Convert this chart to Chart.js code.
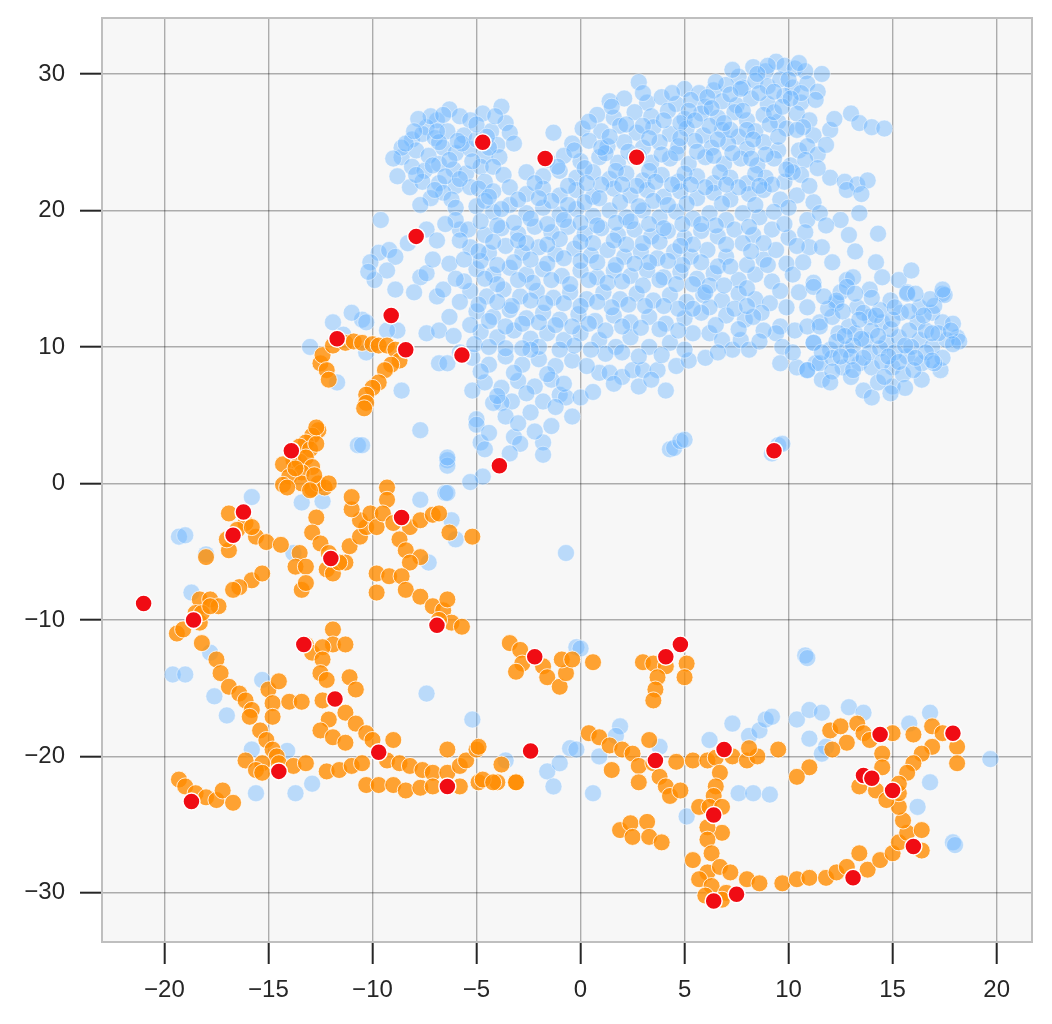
<!DOCTYPE html>
<html lang="en">
<head>
    <meta charset="UTF-8">
    <title>Embedding scatter</title>
    <script src="https://cdn.jsdelivr.net/npm/chart.js@4.4.1/dist/chart.umd.min.js"></script>
    <style>
        body { margin: 0; background: #ffffff; }
        canvas { display: block; }
    </style>
</head>
<body>
<canvas id="myChart" width="1052" height="1024"></canvas>
<script>
    // tick positions
    var xTicks = [-20, -15, -10, -5, 0, 5, 10, 15, 20];
    var yTicks = [-30, -20, -10, 0, 10, 20, 30];

    // blue points: upper left clump
    var blueUpperLeft = [
        [-6.3,27.4],[-5.8,26.9],[-4.7,27.1],[-3.8,27.6],[-3.6,26.4],[-3.4,25.7],[-5.3,26.6],[-6.9,26.6],
        [-7.4,26.1],[-8.1,25.2],[-7.6,25.6],[-7.0,25.3],[-6.4,25.8],[-5.6,25.5],[-4.3,25.8],[-4.0,24.8],
        [-8.6,23.9],[-7.9,24.4],[-7.3,24.0],[-6.6,24.6],[-6.0,24.2],[-5.3,24.5],[-4.6,24.0],[-3.9,23.9],
        [-8.8,22.5],[-8.1,23.2],[-7.5,22.9],[-6.8,23.4],[-6.1,23.0],[-5.5,22.7],[-4.8,23.2],[-4.2,23.2],
        [-8.2,21.7],[-7.6,22.1],[-6.8,22.0],[-6.0,21.8],[-5.3,21.7],[-4.6,22.1],[-6.6,21.3],[-6.2,20.8],
        [-7.2,20.9],[-5.7,24.9],[-7.2,26.9],[-8.6,24.6],[-9.0,23.8],[-5.0,25.2],[-6.8,25.0],
        [-7.8,26.7],[-6.6,27.0],[-5.0,26.3],[-4.1,26.9],[-3.2,24.9],[-4.4,24.6],[-5.2,23.6],[-6.3,23.7],
        [-7.1,23.3],[-7.9,22.6],[-8.4,24.9],[-6.9,25.8],[-5.9,25.1],[-6.5,22.5],[-5.8,22.3],[-4.9,21.6],
        [-7.0,21.5],[-8.0,25.8],[-4.5,25.4],[-3.7,22.6],[-6.0,20.2],[-7.7,20.4]
    ];

    // blue points: left arm going down toward the orange arc
    var blueLeftArm = [
        [-9.7,16.9],[-9.2,17.1],[-8.9,16.6],[-9.3,15.6],[-9.9,14.9],[-8.9,14.2],[-7.7,15.1],[-7.4,15.4],
        [-7.1,16.4],[-7.4,18.6],[-6.9,17.8],[-6.3,16.1],[-5.8,18.6],[-6.9,13.7],[-6.6,14.2],[-7.4,11.0],
        [-6.3,12.2],[-6.8,8.8],[-7.7,3.9],[-10.5,12.0],[-8.8,11.2],[-8.6,6.8],[-10.1,16.2],[-9.6,19.3],
        [-10.2,15.5],[-8.3,17.6],[-8.0,14.0],[-13.0,10.0],[-11.9,11.8],[-11.0,12.5],[-10.3,11.8],[-9.3,11.2],
        [-11.7,7.4],[-10.3,9.6],[-10.7,2.8],[-10.5,2.8],[-6.4,1.7],[-6.4,1.3],[-6.8,11.2],[-6.4,8.8],
        [-5.2,6.8],[-6.0,19.3],[-6.5,19.0],[-11.4,10.9]
    ];

    // blue points: main body
    var blueMain = [
        [8.3,30.5],[8.9,30.2],[9.4,30.9],[9.8,30.6],[10.3,30.4],[10.8,30.2],[11.6,30.0],[7.6,29.8],
        [2.8,29.4],[5.0,28.9],[5.7,28.6],[6.4,28.8],[7.0,29.2],[7.8,29.0],[8.4,29.5],[9.0,29.1],[9.6,29.6],[10.2,29.0],[10.9,29.3],[11.4,28.7],
        [1.4,28.0],[2.1,28.2],[3.2,27.9],[3.9,28.3],[4.6,27.8],[5.3,28.1],[6.0,27.6],[6.8,28.0],[7.5,27.7],[8.2,28.2],[9.0,27.8],[9.8,28.4],[10.6,27.9],[11.3,28.1],[8.6,28.6],
        [0.8,27.0],[1.6,26.8],[2.6,27.2],[3.4,26.9],[4.2,27.3],[5.0,26.7],[5.8,27.1],[6.6,26.8],[7.4,27.2],[8.0,26.6],[8.8,27.0],[9.5,26.5],[10.4,27.1],[11.0,26.6],[13.0,27.1],[13.4,26.4],[14.0,26.1],
        [0.1,26.0],[1.0,25.8],[1.9,26.2],[2.7,25.7],[3.5,26.1],[4.3,25.6],[5.1,26.0],[5.9,25.5],[6.8,25.9],[7.6,25.4],[8.4,25.8],[9.1,26.3],[9.9,26.0],[11.2,25.5],[12.0,25.9],[14.6,26.0],[-1.3,25.7],
        [-0.4,24.9],[0.4,25.1],[1.3,24.7],[2.1,25.0],[3.0,24.6],[3.8,25.0],[4.7,24.7],[5.5,25.1],[6.3,24.6],[7.1,24.9],[8.0,24.5],[8.8,25.0],[9.5,24.4],[10.5,24.4],[10.9,24.7],[11.4,24.1],
        [-1.6,23.7],[-0.8,24.0],[0.0,23.6],[0.9,23.9],[1.8,23.5],[2.6,23.9],[3.4,23.5],[4.3,23.8],[5.2,23.4],[6.0,23.9],[6.9,23.4],[7.7,23.8],[8.5,23.3],[9.3,23.8],[10.1,23.3],[10.8,23.7],
        [-2.6,22.8],[-1.8,22.5],[-1.0,22.9],[-0.2,22.4],[0.6,22.8],[1.4,22.3],[2.2,22.7],[3.0,22.2],[3.9,22.6],[4.7,22.1],[5.6,22.5],[6.4,22.0],[7.2,22.4],[8.0,22.0],[8.9,22.4],[9.8,22.1],[10.6,22.6],[12.0,22.4],[12.7,22.1],[13.3,21.9],[13.8,22.2],
        [-4.2,21.4],[-3.4,21.7],[-2.6,21.2],[-1.8,21.6],[-1.0,21.1],[-0.2,21.5],[0.6,21.0],[1.6,21.6],[2.4,21.1],[3.2,21.5],[4.0,21.0],[4.8,21.4],[5.6,20.9],[6.4,21.3],[7.2,20.8],[8.1,21.2],[8.8,21.5],[9.6,20.8],[10.4,21.1],[11.2,20.6],[12.8,21.5],[13.5,21.2],
        [-5.0,20.3],[-4.2,19.9],[-3.4,20.4],[-2.6,19.8],[-1.8,20.2],[-1.0,19.7],[-0.2,20.1],[0.6,19.6],[1.4,20.0],[2.2,19.5],[3.0,20.0],[3.8,19.5],[4.6,19.9],[5.4,19.4],[6.2,19.8],[7.0,19.3],[7.8,19.8],[8.6,19.5],[9.3,19.9],[10.9,19.3],[11.5,19.8],[12.5,19.3],[13.4,19.8],
        [-5.4,18.6],[-4.6,18.2],[-3.8,18.7],[-3.0,18.3],[-2.2,18.8],[-1.4,18.4],[-0.6,18.8],[0.2,18.3],[1.0,18.7],[1.8,18.2],[2.6,18.6],[3.4,18.1],[4.2,18.5],[5.0,18.0],[5.8,18.5],[6.6,18.1],[7.4,18.6],[8.3,18.2],[9.2,18.6],[10.0,18.0],[10.8,18.4],[12.9,18.2],[14.3,18.3],
        [-5.3,17.3],[-4.4,16.9],[-3.6,17.4],[-2.8,16.9],[-2.0,17.3],[-1.2,16.8],[-0.3,17.2],[0.5,16.7],[1.3,17.1],[2.1,16.6],[2.9,17.0],[3.7,16.5],[4.5,17.0],[5.3,16.6],[6.1,17.1],[7.0,16.6],[7.8,17.6],[8.8,16.4],[9.4,17.1],[9.9,16.1],[11.0,17.3],[11.6,17.3],[13.2,17.0],[12.1,16.2],[14.2,16.2],
        [-5.0,15.7],[-4.2,15.3],[-3.4,15.8],[-2.6,15.3],[-1.8,15.7],[-0.9,15.2],[0.0,15.6],[0.8,15.1],[1.6,15.6],[2.4,15.2],[3.2,15.6],[4.0,15.1],[4.8,15.5],[5.6,15.0],[6.4,15.4],[7.6,14.9],[8.4,15.3],[9.2,14.8],[10.2,15.3],[11.2,14.7],[12.8,14.9],[13.1,15.1],[14.5,15.1],[15.3,14.9],[15.9,15.6],
        [-5.3,14.1],[-4.5,13.7],[-3.7,14.2],[-2.9,13.7],[-2.1,14.1],[-1.3,13.6],[-0.5,14.0],[0.3,13.5],[1.1,14.0],[1.9,13.5],[2.7,13.9],[3.5,13.4],[4.3,13.8],[5.1,13.3],[5.9,13.8],[6.8,13.4],[7.6,13.9],[8.4,13.5],[9.1,13.2],[9.9,12.9],[10.9,12.9],[12.3,13.2],[12.5,14.0],[13.9,14.2],[14.9,13.4],[15.7,14.0],[17.4,13.9],
        [-5.0,12.6],[-4.2,12.2],[-3.4,12.7],[-2.6,12.1],[-1.8,12.5],[-1.0,12.0],[-0.1,12.4],[0.7,11.9],[1.6,12.3],[2.4,11.8],[3.3,12.2],[4.1,11.7],[5.0,12.1],[6.2,12.9],[7.0,12.3],[7.9,12.0],[8.7,12.5],[9.6,11.5],
        [-4.8,11.1],[-4.0,10.7],[-3.2,11.2],[-2.4,10.6],[-1.6,11.0],[-0.8,10.5],[0.0,11.0],[0.9,10.5],[1.7,10.0],[2.4,10.7],[3.3,10.0],[4.3,10.3],[5.4,11.0],[6.2,11.0],[6.8,10.5],[7.3,9.8],[7.7,10.5],[8.1,9.8],[9.4,11.0],[9.7,10.0],[11.2,10.3],[11.5,11.8],[11.3,8.8],
        [-5.2,9.2],[-4.4,8.7],[-3.6,9.3],[-2.8,8.7],[-2.0,9.1],[-1.2,8.6],[-0.4,9.0],[0.9,8.1],[1.4,8.1],[2.0,7.8],[2.5,8.3],[3.0,8.3],[3.7,8.3],[4.6,8.6],[5.2,9.0],[6.0,9.2],[9.6,8.8],[10.4,8.5],[10.9,8.3],[11.6,7.6],
        [-4.6,7.4],[-3.8,7.0],[-3.0,7.5],[-2.2,7.1],[-1.4,7.6],[-1.0,6.5],[-0.7,6.3],[0.0,6.3],[0.6,6.7],[2.8,7.1],[4.1,6.8],[-1.8,6.0],[-3.3,6.0],[-3.8,5.9],[-4.2,5.9],
        [-3.6,4.9],[-5.0,4.7],[-5.0,4.3],[-0.4,4.9],[-2.4,5.2],[-1.4,4.2],
        [-4.8,3.0],[-4.6,2.5],[-3.2,3.4],[-2.9,2.9],[-3.4,2.2],[-1.8,3.0],[-1.8,2.1],[-6.4,1.9],[-4.7,0.5],[-5.3,0.1],[-6.5,-0.7],
        [4.3,2.5],[4.5,2.6],[4.8,3.1],[5.0,3.2],[9.5,2.8],[9.7,2.9],[9.2,2.2]
    ];

    // blue points: extra points in the densest part of the body
    var blueDense = [
        [-0.3,24.4],[1.2,24.2],[2.3,24.3],[3.9,24.1],[5.6,24.3],[7.3,24.2],[8.9,24.1],[-1.1,23.2],
        [0.2,23.1],[1.7,22.9],[3.3,22.9],[5.0,22.7],[6.7,22.8],[8.4,22.7],[10.2,22.8],
        [-2.2,22.0],[-0.6,21.8],[1.0,21.9],[2.7,21.8],[4.4,21.9],[6.0,21.7],[7.6,21.7],[9.2,21.9],[11.0,21.8],
        [-4.6,20.7],[-3.0,20.8],[-1.4,20.7],[0.2,20.6],[1.9,20.6],[3.5,20.7],[5.1,20.5],[6.8,20.5],[8.4,20.4],[10.0,20.2],
        [-4.8,19.2],[-3.2,19.1],[-1.6,19.0],[0.0,19.1],[1.7,19.1],[3.3,19.0],[4.9,19.0],[6.5,18.9],[8.1,18.8],[9.8,19.0],[11.8,18.9],
        [-5.8,17.8],[-4.2,17.7],[-2.6,17.6],[-1.0,17.9],[0.6,17.6],[2.2,17.5],[3.8,17.7],[5.4,17.5],[7.0,17.5],[8.8,17.6],[10.4,17.4],
        [-4.8,16.3],[-3.2,16.2],[-1.6,16.1],[0.0,16.3],[1.7,16.0],[3.3,16.2],[4.9,16.0],[6.6,15.9],[8.0,16.0],[10.7,16.2],
        [-5.6,14.8],[-4.0,14.6],[-2.3,14.7],[-0.5,14.6],[1.3,14.7],[3.0,14.5],[4.6,14.6],[6.2,14.5],[8.0,14.3],[9.6,14.1],[10.5,14.0],
        [-4.9,13.1],[-3.3,13.0],[-1.7,13.2],[0.0,13.0],[1.5,12.9],[3.1,13.0],[4.7,12.8],[5.8,12.5],[7.4,12.8],[8.3,12.2],
        [-5.3,11.6],[-3.6,11.5],[-2.0,11.8],[-0.4,11.5],[1.2,11.2],[2.9,11.4],[4.7,11.2],[6.5,11.6],[8.8,11.2],[10.3,11.2],
        [-5.1,10.2],[-3.6,9.9],[-2.0,10.0],[-0.3,10.1],[1.2,9.5],[2.8,9.3],[3.9,9.4],[5.0,9.8],[8.6,10.4],[10.2,9.6],
        [-4.8,8.2],[-3.2,8.1],[-1.6,8.0],[0.3,8.6],[-2.4,9.8],[6.6,9.6],
        [-4.0,6.4],[-2.6,6.6],[-1.2,5.6],[-3.0,4.4],[-4.4,3.7],[-2.2,3.8],[-0.8,7.3],[1.6,7.3],[3.4,7.6],
        [4.4,28.6],[6.1,28.3],[7.2,28.5],[9.3,28.7],[10.0,29.6],[10.6,28.6],[5.2,27.3],[6.3,27.5],[7.8,27.3],
        [9.3,27.2],[10.7,26.1],[4.8,26.4],[6.2,26.2],[7.2,25.9],[8.0,25.9],[9.5,25.4],[10.4,25.9],[12.2,26.7],
        [11.8,24.8],[9.9,23.0],[11.4,23.1],[4.0,26.6],[2.2,26.3],[3.0,28.6],[0.4,26.5],[1.5,27.6],[9.0,30.6],
        [10.5,30.8],[7.3,30.3]
    ];

    // blue points: more filling of the central ridge
    var blueRidge = [
        [-4.4,21.0],[-3.8,20.1],[-2.0,20.9],[-0.6,20.4],[0.9,20.9],[2.8,20.3],[4.2,20.4],[-4.0,18.9],
        [-2.4,19.4],[-0.8,19.3],[0.8,18.9],[2.4,19.2],[4.0,18.7],[5.8,19.0],[-4.9,17.0],[-3.0,17.8],
        [-1.6,17.5],[0.0,17.7],[1.6,17.8],[3.0,17.6],[4.8,17.4],[-5.6,16.4],[-4.0,16.0],[-2.4,16.4],
        [-0.8,16.5],[0.8,16.2],[2.6,16.1],[4.2,16.3],[5.8,16.2],[-4.6,15.0],[-3.0,14.9],[-1.4,14.9],
        [0.4,14.9],[2.0,14.8],[3.8,14.9],[5.4,14.6],[-4.0,13.3],[-2.4,13.4],[-0.8,13.2],[0.8,13.3],
        [2.3,13.1],[4.0,13.0],[-4.4,11.9],[-2.8,11.7],[-1.2,11.6],[0.4,11.7],[2.0,11.5],[3.8,11.3],
        [-4.4,10.0],[-2.8,9.9],[-1.0,9.8],[0.5,9.8],[2.0,9.6],[6.9,14.5],[7.2,15.9],[8.2,17.0],
        [9.0,16.0],[6.0,14.0],[5.4,12.8],[7.6,11.3],[8.0,13.0],[-6.0,15.0],[-5.8,13.3],[-6.1,10.8],
        [-5.8,9.6],[1.0,24.6],[2.8,24.0],[4.6,24.2],[6.4,24.0],[8.2,23.8],[0.3,22.0],[2.0,21.9],
        [3.6,22.1],[5.3,21.9],[7.0,21.9],[8.6,21.8],[6.9,26.4],[5.5,26.6],[3.0,26.2],[1.4,25.4],
        [3.3,25.3],[4.8,25.3],[6.6,25.2],[8.3,25.2],[7.7,28.9],[6.5,29.4],[8.5,30.0],[9.7,27.6],
        [10.1,28.2]
    ];

    // blue points: right lobe
    var blueRightLobe = [
        [11.2,14.4],[12.3,13.4],[12.8,14.4],[15.7,13.9],[17.5,13.8],[10.9,11.5],[11.5,11.5],[12.1,12.2],
        [12.9,11.5],[13.9,12.2],[14.5,11.8],[15.4,12.5],[16.2,11.8],[16.9,12.5],[17.4,11.8],[18.1,10.7],
        [11.2,10.3],[12.0,9.8],[12.8,9.8],[13.7,10.5],[14.7,10.3],[15.3,10.7],[16.3,10.5],[16.9,10.0],
        [17.6,10.5],[10.9,8.3],[11.5,8.8],[12.6,8.5],[13.4,8.8],[14.0,8.5],[15.0,8.5],[15.7,9.3],
        [16.4,8.8],[17.3,8.3],[13.6,6.8],[14.0,6.3],[15.0,7.1],[16.4,7.6],[14.4,12.7],[12.4,11.0],
        [13.2,11.0],[14.0,11.2],[14.9,11.3],[15.8,11.2],[16.6,11.2],[17.2,11.0],[18.2,10.4],[12.3,10.4],
        [13.1,10.1],[13.9,9.6],[14.4,9.9],[15.1,9.6],[15.9,10.0],[16.6,9.6],[17.4,9.2],[12.1,9.2],
        [13.0,9.3],[14.5,8.9],[15.5,8.0],[16.0,8.3],[13.0,7.8],[14.3,7.4],[15.6,7.0],[11.9,12.8],
        [13.3,12.9],[15.0,12.0],[16.3,12.9],[17.0,13.0],[14.0,13.6],[16.8,13.5],[17.4,14.2],[13.6,12.5],
        [12.6,12.6],[13.4,12.0],[14.2,12.3],[15.1,12.9],[15.8,12.6],[16.5,12.3],[17.9,11.7],[12.7,10.8],
        [13.5,10.6],[14.3,10.8],[15.6,10.1],[16.9,11.0],[17.8,11.2],[11.6,9.6],[12.5,9.3],[13.6,9.2],
        [14.8,9.3],[16.1,9.2],[17.0,8.8],[12.1,8.2],[13.1,8.3],[14.6,7.8],[15.3,8.9],[16.9,9.0],
        [14.9,6.6],[17.9,10.2],[11.7,13.7],[13.2,13.9],[16.1,13.9],[12.0,7.4]
    ];

    // blue points: scattered among the orange strands
    var blueScatter = [
        [-15.8,-1.0],[-13.4,-1.4],[-12.4,-1.3],[-19.3,-3.9],[-19.0,-3.8],[-18.7,-8.0],[-7.7,-1.2],[-6.4,-0.7],
        [-6.2,-2.7],[-6.0,-4.1],[-7.3,-5.8],[-13.8,-5.1],[-0.7,-5.1],[-18.0,-5.2],[-19.6,-14.0],[-19.0,-14.0],
        [-17.8,-12.4],[-17.6,-15.6],[-17.0,-17.0],[-15.3,-14.4],[-15.8,-19.5],[-14.1,-19.6],[-15.6,-22.7],[-13.7,-22.7],
        [-12.9,-22.0],[-7.4,-15.4],[-5.2,-17.3],[-3.6,-20.3],[-1.6,-21.1],[-1.0,-20.5],[-1.3,-22.2],[-0.5,-19.4],
        [-0.2,-19.5],[-0.2,-12.0],[0.0,-12.1],[1.9,-17.8],[1.7,-18.5],[0.9,-20.0],[0.6,-22.7],[3.8,-19.3],
        [6.2,-18.8],[7.3,-17.6],[8.1,-18.5],[8.6,-18.1],[8.9,-17.3],[9.2,-17.1],[10.4,-17.3],[11.0,-16.6],
        [11.6,-16.8],[12.9,-16.4],[13.6,-16.8],[11.0,-18.7],[11.8,-19.3],[15.8,-17.6],[16.8,-16.8],[16.8,-21.9],
        [16.2,-23.7],[17.9,-26.3],[18.0,-26.5],[7.6,-22.7],[8.3,-22.7],[9.1,-22.8],[10.8,-12.6],[10.9,-12.8],
        [5.1,-24.4],[11.6,-19.8],[19.7,-20.2]
    ];

    // orange strands
    var orangeUpperArc = [
        [-12.5,8.8],[-12.4,9.4],[-12.2,8.3],[-12.1,7.6],[-11.9,10.1],[-11.3,10.3],[-10.9,10.4],[-10.5,10.3],
        [-10.0,10.2],[-9.7,10.1],[-9.3,10.1],[-8.9,9.8],[-8.7,9.0],[-9.1,8.7],[-9.4,8.3],[-9.7,7.4],
        [-10.0,7.0],[-10.3,6.5],[-10.3,5.9],[-10.4,5.5]
    ];
    var orangeLeftClusters = [
        [-12.6,3.9],[-12.9,3.5],[-13.2,3.0],[-13.5,2.7],[-13.0,2.5],[-12.7,2.9],[-13.8,1.7],[-14.3,1.4],
        [-13.5,1.6],[-13.2,1.9],[-12.9,1.2],[-13.4,0.8],[-14.0,0.5],[-14.3,-0.1],[-13.4,0.0],[-12.9,-0.4],
        [-12.6,0.0],[-12.3,-0.3],[-14.1,-0.3],[-13.7,1.1],[-12.8,0.6],[-12.1,0.0],[-13.0,-0.5],[-12.7,4.1],
        [-16.9,-2.2],[-16.1,-2.9],[-15.6,-3.9],[-15.1,-4.3],[-16.9,-4.9],[-17.0,-4.1],[-16.5,-3.4],[-15.8,-3.2],
        [-14.4,-4.5],[-18.0,-5.4]
    ];
    var orangeMiddle = [
        [-12.7,-2.5],[-12.9,-3.6],[-12.5,-4.4],[-13.5,-5.1],[-13.7,-6.1],[-13.2,-6.1],[-13.4,-7.8],[-13.2,-7.3],
        [-12.2,-6.3],[-11.9,-6.6],[-11.3,-5.8],[-11.1,-4.6],[-10.6,-3.9],[-10.3,-3.2],[-10.6,-2.7],[-11.0,-1.9],
        [-11.0,-1.0],[-10.1,-2.2],[-9.8,-3.2],[-9.3,-0.3],[-9.3,-1.2],[-9.5,-2.2],[-9.0,-2.9],[-8.2,-3.2],
        [-7.7,-2.7],[-7.1,-2.3],[-6.8,-2.2],[-8.7,-4.1],[-8.4,-4.9],[-7.7,-5.4],[-8.2,-5.8],[-9.8,-6.6],
        [-9.8,-8.0],[-9.2,-6.8],[-8.6,-6.8],[-8.4,-7.8],[-7.7,-8.3],[-7.1,-9.0],[-6.6,-9.3],[-6.4,-8.5],
        [-6.2,-10.2],[-5.7,-10.5],[-6.8,-10.0],[-12.1,-5.1],[-11.6,-5.8],[-15.8,-7.1],[-15.3,-6.6],[-16.4,-7.6],
        [-16.7,-7.8],[-18.3,-8.5],[-17.8,-8.5],[-17.4,-9.0],[-18.5,-9.5],[-5.2,-3.9],[-6.3,-3.6]
    ];
    var orangeLeftArc = [
        [-19.4,-11.0],[-19.1,-10.7],[-18.3,-10.2],[-18.2,-9.5],[-17.8,-9.0],[-18.2,-11.7],[-17.5,-12.9],[-17.3,-13.9],
        [-16.9,-14.9],[-16.4,-15.4],[-16.1,-15.9],[-15.8,-16.6],[-15.9,-17.1],[-15.4,-18.1],[-15.1,-18.8],[-14.8,-19.5],
        [-14.6,-20.0],[-14.5,-20.5],[-15.3,-20.5],[-16.1,-20.3],[-15.6,-21.0],[-13.8,-20.7],[-13.2,-20.5],[-15.3,-21.2],
        [-15.0,-15.1],[-14.5,-14.5],[-14.8,-16.1],[-14.0,-16.0],[-13.4,-16.0],[-14.8,-17.1],
        [-13.2,-11.8],[-12.9,-12.4],[-11.9,-10.7],[-11.9,-11.8],[-11.3,-11.8],[-12.4,-12.0],[-12.4,-12.9],
        [-12.5,-13.9],[-12.2,-14.4],[-11.1,-14.2],[-10.8,-15.1],[-12.4,-15.9],[-12.1,-17.3],[-12.5,-18.1],
        [-11.9,-18.6],[-11.3,-19.0],[-11.3,-16.8],[-10.8,-17.6],[-10.3,-18.3],[-10.0,-18.8],[-9.0,-18.8],
        [-9.3,-20.3],[-8.7,-20.5],[-8.2,-20.7],[-7.6,-21.0],[-7.1,-21.2],[-6.4,-21.2],[-5.8,-20.7],[-5.5,-20.3],
        [-5.0,-19.5],[-6.4,-19.5],[-12.2,-21.1],[-11.6,-21.0],[-11.0,-20.7],[-10.5,-20.5],
        [-10.3,-22.1],[-9.7,-22.1],[-9.0,-22.1],[-8.4,-22.5],[-7.7,-22.3],[-7.1,-22.2],[-5.8,-22.2],[-4.9,-21.9],
        [-4.0,-21.9],[-3.1,-21.9],
        [-19.3,-21.7],[-19.0,-22.2],[-18.5,-22.7],[-18.0,-23.0],[-17.5,-23.2],[-17.2,-22.5],[-16.7,-23.4]
    ];
    var orangeCenter = [
        [-3.4,-11.7],[-2.9,-12.2],[-2.8,-13.2],[-3.1,-13.8],[-1.8,-13.4],[-1.6,-14.2],[-1.0,-14.9],[-0.7,-13.9],
        [-0.9,-12.9],[-0.4,-12.9],[0.6,-13.1],
        [3.0,-13.1],[3.5,-13.2],[4.1,-13.4],[5.1,-13.2],[5.0,-14.2],[3.7,-14.2],[3.6,-15.1],[3.5,-15.9]
    ];
    var orangeBottom = [
        [-4.9,-19.3],[-4.7,-21.7],[-4.2,-21.9],[-3.1,-21.9],[-3.8,-20.6],
        [0.4,-18.3],[0.9,-18.6],[1.4,-19.2],[2.0,-19.5],[2.5,-19.8],[1.5,-21.0],[2.8,-20.7],[2.8,-21.9],
        [3.5,-20.5],[3.8,-21.5],[4.1,-22.2],[4.3,-22.9],[4.8,-22.5],[3.3,-18.8],[4.6,-20.4],[5.4,-20.3],
        [6.1,-20.3],[6.5,-20.1],[7.3,-20.0],[8.0,-20.3],[8.5,-20.0],[9.5,-19.5],[8.1,-19.4],
        [6.7,-21.2],[6.5,-22.2],[6.4,-22.9],[5.7,-23.7],[6.2,-23.7],[6.8,-23.7],[6.8,-25.6],[6.1,-25.2],
        [6.1,-26.1],[5.4,-27.6],[6.3,-27.1],[6.1,-28.5],[6.7,-28.1],[5.7,-29.0],[6.3,-29.5],[7.2,-28.5],
        [7.0,-30.0],[6.0,-30.2],[6.8,-30.5],
        [8.0,-29.0],[8.6,-29.3],[9.7,-29.3],[10.4,-29.0],[11.0,-28.9],[11.8,-28.9],[12.3,-28.5],[12.8,-28.1],
        [13.4,-27.1],[13.8,-28.3],[14.4,-27.6],[15.0,-27.1],[15.3,-26.3],[15.7,-25.6],[16.4,-25.4],[16.4,-26.9],
        [15.5,-24.7],[15.3,-23.7],[15.3,-22.7],
        [12.0,-18.1],[12.5,-17.8],[13.3,-17.6],[13.6,-18.3],[13.9,-18.8],[15.0,-18.3],[16.0,-18.4],[16.9,-17.8],
        [17.4,-18.3],[16.9,-19.3],[16.4,-19.8],[16.0,-20.5],[15.7,-21.2],[15.3,-22.0],[18.1,-19.3],[18.1,-20.5],
        [14.5,-19.8],[14.5,-20.8],[13.4,-22.2],[14.2,-22.5],[14.7,-23.2],[12.8,-19.0],[12.1,-19.5],[11.0,-20.8],
        [10.4,-21.5],
        [1.9,-25.4],[2.4,-24.9],[3.2,-24.8],[2.5,-25.9],[3.3,-25.9],[3.9,-26.3]
    ];

    // highlighted points
    var redPoints = [
        [-4.7,25.0],[-1.7,23.8],[2.7,23.9],[-7.9,18.1],[-9.1,12.3],[-11.7,10.6],[-8.4,9.8],[-5.7,9.4],
        [-13.9,2.4],[-3.9,1.3],[9.3,2.4],[-16.2,-2.1],[-16.7,-3.8],[-8.6,-2.5],[-12.0,-5.5],[-21.0,-8.8],
        [-18.6,-10.0],[-6.9,-10.4],[-13.3,-11.8],[-2.2,-12.7],[4.1,-12.7],[4.8,-11.8],[-11.8,-15.8],[-9.7,-19.7],
        [-2.4,-19.6],[-14.5,-21.1],[-6.4,-22.2],[-18.7,-23.3],[3.6,-20.3],[6.9,-19.5],[6.4,-24.3],[6.4,-30.6],
        [7.5,-30.1],[14.4,-18.4],[17.9,-18.3],[13.6,-21.4],[14.0,-21.6],[15.0,-22.5],[16.0,-26.6],[13.1,-28.9]
    ];

    function toXY(list) {
        return list.map(function (p) { return { x: p[0], y: p[1] }; });
    }

    var bluePoints = [].concat(blueUpperLeft, blueLeftArm, blueMain, blueDense, blueRidge, blueRightLobe, blueScatter);
    var orangePoints = [].concat(orangeUpperArc, orangeLeftClusters, orangeMiddle, orangeLeftArc, orangeCenter, orangeBottom);

    function minusLabel(v) {
        return v < 0 ? '\u2212' + Math.abs(v) : String(v);
    }

    // grey plot background and light frame
    var frame = {
        id: 'frame',
        beforeDraw: function (chart) {
            var a = chart.chartArea, c = chart.ctx;
            c.save();
            c.fillStyle = '#f7f7f7';
            c.fillRect(a.left, a.top, a.right - a.left, a.bottom - a.top);
            c.restore();
        },
        afterDraw: function (chart) {
            var a = chart.chartArea, c = chart.ctx;
            c.save();
            c.strokeStyle = '#bfbfbf';
            c.lineWidth = 2;
            c.strokeRect(a.left, a.top, a.right - a.left, a.bottom - a.top);
            c.restore();
        }
    };

    var tickFont = { family: '"Liberation Sans", Arial, sans-serif', size: 24 };

    var ctx = document.getElementById('myChart').getContext('2d');
    var chart = new Chart(ctx, {
        type: 'scatter',
        data: {
            datasets: [{
                label: 'highlight',
                data: toXY(redPoints),
                backgroundColor: '#f00c14',
                borderColor: '#ffffff',
                borderWidth: 1.5,
                pointRadius: 8.5,
                order: 0
            }, {
                label: 'orange',
                data: toXY(orangePoints),
                backgroundColor: 'rgba(255,140,0,0.8)',
                borderColor: 'rgba(255,255,255,0.8)',
                borderWidth: 1,
                pointRadius: 8.5,
                order: 1
            }, {
                label: 'blue',
                data: toXY(bluePoints),
                backgroundColor: 'rgba(102,179,255,0.42)',
                borderColor: 'rgba(255,255,255,0.45)',
                borderWidth: 1,
                pointRadius: 8.5,
                order: 2
            }]
        },
        options: {
            responsive: false,
            animation: false,
            devicePixelRatio: 1,
            layout: { padding: { top: 18, right: 20, left: 0, bottom: 0 } },
            plugins: { legend: { display: false }, tooltip: { enabled: false } },
            scales: {
                x: {
                    type: 'linear',
                    min: -23.0,
                    max: 21.7,
                    afterBuildTicks: function (scale) {
                        scale.ticks = xTicks.map(function (v) { return { value: v }; });
                    },
                    afterFit: function (scale) {
                        scale.height = 82;
                        scale.paddingLeft = 0;
                        scale.paddingRight = 0;
                    },
                    grid: {
                        color: 'rgba(0,0,0,0.3)',
                        lineWidth: 1.4,
                        tickLength: 22,
                        tickColor: '#262626',
                        tickWidth: 2
                    },
                    border: { display: false },
                    ticks: {
                        color: '#262626',
                        font: tickFont,
                        padding: 12,
                        maxRotation: 0,
                        callback: minusLabel
                    }
                },
                y: {
                    type: 'linear',
                    min: -33.6,
                    max: 34.1,
                    afterBuildTicks: function (scale) {
                        scale.ticks = yTicks.map(function (v) { return { value: v }; });
                    },
                    afterFit: function (scale) {
                        scale.width = 102;
                        scale.paddingTop = 0;
                        scale.paddingBottom = 0;
                    },
                    grid: {
                        color: 'rgba(0,0,0,0.3)',
                        lineWidth: 1.4,
                        tickLength: 22,
                        tickColor: '#262626',
                        tickWidth: 2
                    },
                    border: { display: false },
                    ticks: {
                        color: '#262626',
                        font: tickFont,
                        padding: 15,
                        callback: minusLabel
                    }
                }
            }
        },
        plugins: [frame]
    });
</script>
</body>
</html>
